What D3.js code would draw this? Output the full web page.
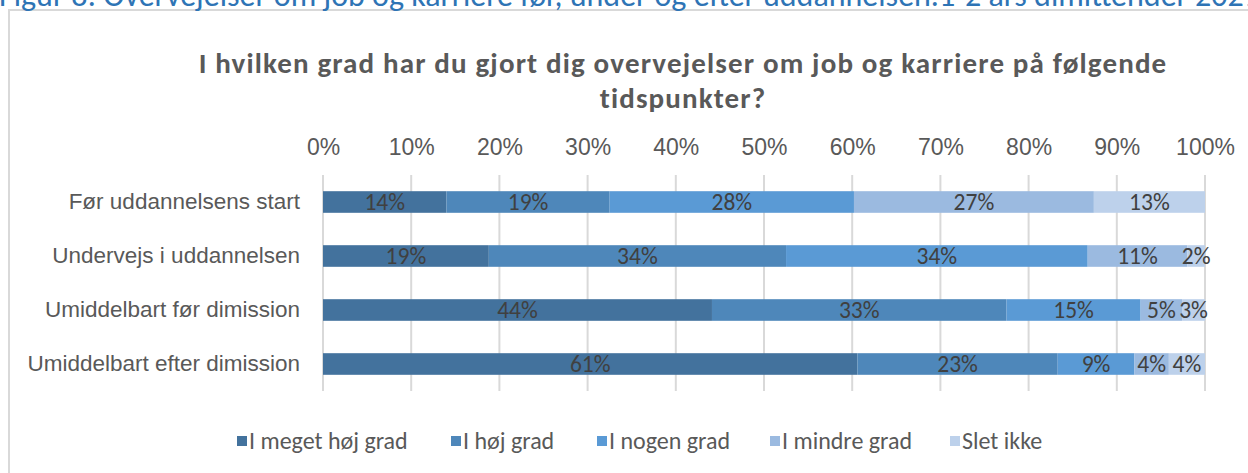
<!DOCTYPE html>
<html><head><meta charset="utf-8">
<script src="https://cdn.jsdelivr.net/npm/d3@7"></script>
<style>body{margin:0;background:#fff;}svg{display:block;font-family:Carlito,Lato,"Open Sans",sans-serif;}</style>
</head><body>
<svg id="c" width="1248" height="473"></svg>
<script>
const caption = "Figur 8: Overvejelser om job og karriere før, under og efter uddannelsen.1-2 års dimittender 2021";
const titleLines = ["I hvilken grad har du gjort dig overvejelser om job og karriere på følgende", "tidspunkter?"];
const categories = ["Før uddannelsens start","Undervejs i uddannelsen","Umiddelbart før dimission","Umiddelbart efter dimission"];
const seriesNames = ["I meget høj grad","I høj grad","I nogen grad","I mindre grad","Slet ikke"];
const colors = ["#43729d","#4e87ba","#5a9ad5","#9bbae0","#bdd1eb"];
const sMegetHoej = [14.0, 18.8, 44.1, 60.6];
const sHoej      = [18.5, 33.7, 33.4, 22.7];
const sNogen     = [27.7, 34.2, 15.2, 8.7];
const sMindre    = [27.2, 11.3, 4.7, 3.9];
const sSletIkke  = [12.6, 2.0, 2.6, 4.1];
const tickValues = [0,0.1,0.2,0.3,0.4,0.5,0.6,0.7,0.8,0.9,1];

const seriesVals = [sMegetHoej, sHoej, sNogen, sMindre, sSletIkke];
const rows = categories.map((c,i)=>{const o={cat:c}; seriesNames.forEach((s,j)=>o[s]=seriesVals[j][i]); return o;});
const stack = d3.stack().keys(seriesNames).offset(d3.stackOffsetExpand)(rows);

const svg = d3.select("#c");
// chart border
svg.append("rect").attr("x",9).attr("y",10).attr("width",1300).attr("height",520)
  .attr("fill","none").attr("stroke","#d9d9d9").attr("stroke-width",2);
// caption (cut off at top, as in the source)
svg.append("text").attr("x",-1).attr("y",6).attr("fill","#2e74b5").attr("font-size",32)
  .text(caption);

svg.append("g").selectAll("text").data(titleLines).join("text")
  .attr("text-anchor","middle").attr("fill","#595959").attr("font-weight","bold").attr("font-size",29)
  .attr("letter-spacing",1.15)
  .attr("x",683).attr("y",(d,i)=>73+i*35).text(d=>d);

const x = d3.scaleLinear().domain([0,1]).range([323,1205]);
const y = d3.scaleBand().domain(categories).range([175,391]).paddingInner(0.6).paddingOuter(0.3);

// gridlines
svg.append("g").selectAll("line").data(tickValues).join("line")
  .attr("x1",d=>x(d)).attr("x2",d=>x(d)).attr("y1",175).attr("y2",391)
  .attr("stroke","#d9d9d9").attr("stroke-width",2);

// top axis labels
const xAxis = d3.axisTop(x).tickValues(tickValues).tickFormat(d3.format(".0%")).tickSize(0).tickPadding(0);
const gx = svg.append("g").attr("transform","translate(0,155)").call(xAxis);
gx.select(".domain").remove();
gx.selectAll("text").attr("fill","#595959").attr("font-size",23).attr("font-family",null);

// bars
const layers = svg.append("g").selectAll("g").data(stack).join("g").attr("fill",(d,i)=>colors[i]);
layers.selectAll("rect").data(d=>d.map(v=>({v,cat:v.data.cat}))).join("rect")
  .attr("x",d=>x(d.v[0])).attr("width",d=>x(d.v[1])-x(d.v[0]))
  .attr("y",d=>y(d.cat)).attr("height",y.bandwidth());
const lab = svg.append("g").attr("font-size",23.5).attr("fill","#404040").attr("text-anchor","middle");
stack.forEach((layer,j)=>{
  layer.forEach((v,i)=>{
    lab.append("text").attr("x",(x(v[0])+x(v[1]))/2).attr("y",y(categories[i])+y.bandwidth()/2).attr("dy","0.35em")
      .text(Math.round(seriesVals[j][i])+"%");
  });
});

// category axis
const yAxis = d3.axisLeft(y).tickSize(0).tickPadding(23);
const gy = svg.append("g").attr("transform","translate(323,0)").call(yAxis);
gy.select(".domain").remove();
gy.selectAll("text").attr("fill","#595959").attr("font-size",22.5).attr("font-family",null);

// legend
const legendX = [237,451,597,770,950];
const lg = svg.append("g").selectAll("g").data(seriesNames).join("g")
  .attr("transform",(d,i)=>`translate(${legendX[i]},441)`);
lg.append("rect").attr("x",0).attr("y",-5).attr("width",10).attr("height",10).attr("fill",(d,i)=>colors[i]);
lg.append("text").attr("x",12).attr("dy","0.35em").attr("fill","#595959").attr("font-size",24).text(d=>d);
</script>
</body></html>
